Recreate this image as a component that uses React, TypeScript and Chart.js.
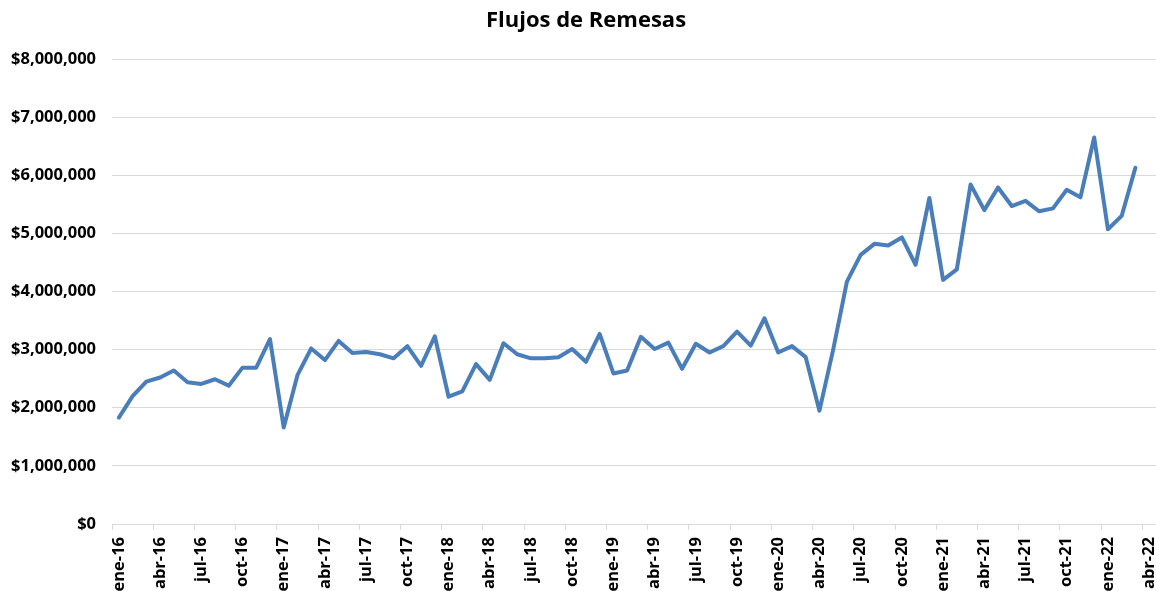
import React, { useEffect, useRef } from "react";
import { Chart, registerables } from "chart.js";

Chart.register(...registerables);

const categories = [
  "ene-16", "feb-16", "mar-16", "abr-16", "may-16", "jun-16", "jul-16", "ago-16", "sep-16", "oct-16", "nov-16", "dic-16",
  "ene-17", "feb-17", "mar-17", "abr-17", "may-17", "jun-17", "jul-17", "ago-17", "sep-17", "oct-17", "nov-17", "dic-17",
  "ene-18", "feb-18", "mar-18", "abr-18", "may-18", "jun-18", "jul-18", "ago-18", "sep-18", "oct-18", "nov-18", "dic-18",
  "ene-19", "feb-19", "mar-19", "abr-19", "may-19", "jun-19", "jul-19", "ago-19", "sep-19", "oct-19", "nov-19", "dic-19",
  "ene-20", "feb-20", "mar-20", "abr-20", "may-20", "jun-20", "jul-20", "ago-20", "sep-20", "oct-20", "nov-20", "dic-20",
  "ene-21", "feb-21", "mar-21", "abr-21", "may-21", "jun-21", "jul-21", "ago-21", "sep-21", "oct-21", "nov-21", "dic-21",
  "ene-22", "feb-22", "mar-22", "abr-22",
];

const remesas2016 = [1830000, 2200000, 2450000, 2520000, 2640000, 2440000, 2410000, 2490000, 2380000, 2690000, 2690000, 3180000];
const remesas2017 = [1660000, 2560000, 3020000, 2820000, 3150000, 2940000, 2960000, 2920000, 2850000, 3060000, 2720000, 3230000];
const remesas2018 = [2190000, 2280000, 2750000, 2480000, 3110000, 2920000, 2850000, 2850000, 2870000, 3010000, 2790000, 3270000];
const remesas2019 = [2590000, 2640000, 3220000, 3010000, 3120000, 2670000, 3100000, 2950000, 3060000, 3310000, 3070000, 3540000];
const remesas2020 = [2950000, 3060000, 2870000, 1950000, 3000000, 4170000, 4630000, 4820000, 4790000, 4930000, 4460000, 5610000];
const remesas2021 = [4200000, 4380000, 5840000, 5400000, 5790000, 5470000, 5560000, 5380000, 5430000, 5750000, 5620000, 6650000];
const remesas2022 = [5070000, 5300000, 6130000, null];

const remesas = [
  ...remesas2016, ...remesas2017, ...remesas2018, ...remesas2019,
  ...remesas2020, ...remesas2021, ...remesas2022,
];

const FONT = "'Open Sans', 'DejaVu Sans', sans-serif";

const shiftTitle = {
  id: "shiftTitle",
  afterLayout(chart: any) {
    const t = chart.titleBlock;
    if (t) {
      t.left += 8;
      t.right += 8;
    }
  },
};

export default function App() {
  const ref = useRef<HTMLCanvasElement>(null);

  useEffect(() => {
    if (!ref.current) return;
    const chart = new Chart(ref.current, {
      type: "line",
      data: {
        labels: categories,
        datasets: [
          {
            label: "Remesas",
            data: remesas,
            borderColor: "#4A7EBB",
            backgroundColor: "#4A7EBB",
            borderWidth: 4,
            pointRadius: 0,
            tension: 0,
            borderJoinStyle: "round",
            borderCapStyle: "round",
            fill: false,
          },
        ],
      },
      plugins: [shiftTitle],
      options: {
        animation: false,
        responsive: false,
        layout: { padding: 0 },
        plugins: {
          legend: { display: false },
          tooltip: { enabled: false },
          title: {
            display: true,
            text: "Flujos de Remesas",
            color: "#000",
            font: { family: FONT, size: 22, weight: "bold" },
            padding: { top: 8, bottom: 24.6 },
          },
        },
        scales: {
          x: {
            offset: true,
            grid: {
              offset: true,
              drawOnChartArea: false,
              drawTicks: true,
              tickLength: 6,
              lineWidth: 1,
              color: (c: any) => (c.index % 3 === 0 ? "#d9d9d9" : "rgba(0,0,0,0)"),
            },
            border: { display: true, color: "#d9d9d9", width: 1 },
            ticks: {
              autoSkip: false,
              minRotation: 90,
              maxRotation: 90,
              padding: 7,
              color: "#000",
              font: { family: FONT, size: 16.5, weight: "bold" },
              callback: (_v: any, i: number) => (i % 3 === 0 ? categories[i] : ""),
            },
            afterFit: (s: any) => {
              s.height = 67;
              s.paddingLeft = 0;
              s.paddingRight = 0;
            },
          },
          y: {
            min: 0,
            max: 8000000,
            grid: { color: "#d9d9d9", lineWidth: 1, drawTicks: false },
            border: { display: false },
            ticks: {
              stepSize: 1000000,
              padding: 16,
              color: "#000",
              font: { family: FONT, size: 16.5, weight: "bold" },
              callback: (v: any) => "$" + Number(v).toLocaleString("en-US"),
            },
            afterFit: (s: any) => {
              s.width = 112;
            },
          },
        },
      },
    });
    return () => chart.destroy();
  }, []);

  return (
    <div
      style={{
        position: "fixed",
        left: 0,
        top: 0,
        width: 1156,
        height: 591,
        background: "#fff",
        overflow: "hidden",
      }}
    >
      <canvas
        ref={ref}
        width={1156}
        height={591}
        style={{ width: 1156, height: 591, display: "block" }}
      />
    </div>
  );
}
